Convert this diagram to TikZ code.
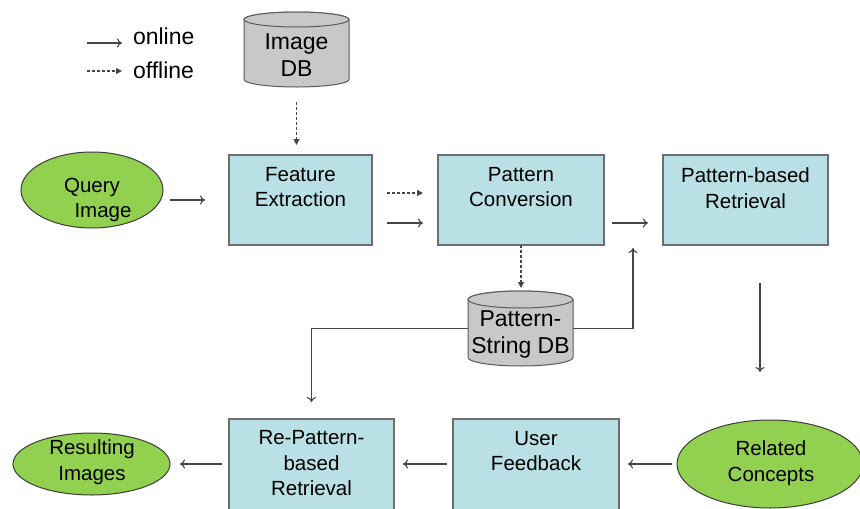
\documentclass[tikz,border=0pt]{standalone}
\usepackage{fontspec}
\setmainfont{Liberation Sans}
\usetikzlibrary{arrows.meta,shapes.geometric}
\definecolor{boxfill}{RGB}{185,224,228}
\definecolor{boxline}{RGB}{110,110,110}
\definecolor{ovfill}{RGB}{146,208,80}
\definecolor{ovline}{RGB}{60,60,60}
\definecolor{cylfill}{RGB}{200,200,200}
\definecolor{cylline}{RGB}{90,90,90}
\definecolor{conn}{RGB}{70,70,70}
\begin{document}
\begin{tikzpicture}[x=1pt,y=1pt,
  every node/.style={font=\fontsize{20.5}{25.5}\selectfont, inner sep=0pt, outer sep=0pt},
  txt/.style={align=center, text=black},
  bigtxt/.style={align=center, text=black, font=\fontsize{23}{27}\selectfont},
  procbox/.style={draw=boxline, line width=1.2pt, fill=boxfill, rectangle},
  oval/.style={draw=ovline, line width=1pt, fill=ovfill, ellipse},
  on/.style={draw=conn, line width=1.1pt, -{To[length=5pt,width=9pt]}},
  off/.style={draw=conn, line width=1.2pt, dash pattern=on 3pt off 2pt, -{Triangle[length=6pt,width=6pt]}},
  cylbody/.style={draw=cylline, line width=1pt, fill=cylfill}
]
\useasboundingbox (0,0) rectangle (860,-509);
\clip (0,0) rectangle (860,-509);

% legend
\coordinate (l1a) at (87,-43);
\coordinate (l1b) at (122,-43);
\coordinate (l2a) at (87,-71);
\coordinate (l2b) at (122,-71);
\draw[on] (l1a) -- (l1b);
\draw[off] (l2a) -- (l2b);
\node[anchor=west, bigtxt] (lon) at (133,-36) {online};
\node[anchor=west, bigtxt] (loff) at (133,-70) {offline};

% Image DB cylinder
\filldraw[cylbody] (244,-19.5) -- (244,-79.5)
  arc[start angle=180,end angle=360,x radius=52.5,y radius=7.5]
  -- (349,-19.5)
  arc[start angle=0,end angle=180,x radius=52.5,y radius=7.5] -- cycle;
\filldraw[cylbody] (296.5,-19.5) ellipse[x radius=52.5,y radius=7.5];
\node[minimum width=105pt, minimum height=75pt] (imgdb) at (296.5,-49.5) {};
\node[bigtxt] (imgdb-t) at (296.5,-55) {Image\\DB};

% Pattern-String DB cylinder
\filldraw[cylbody] (468,-299.5) -- (468,-357.5)
  arc[start angle=180,end angle=360,x radius=52.5,y radius=8.5]
  -- (573,-299.5)
  arc[start angle=0,end angle=180,x radius=52.5,y radius=8.5] -- cycle;
\filldraw[cylbody] (520.5,-299.5) ellipse[x radius=52.5,y radius=8.5];
\node[minimum width=105pt, minimum height=75pt] (psdb) at (520.5,-328.5) {};
\node[bigtxt] (psdb-t) at (520.5,-334) {Pattern-\\String DB};

% top row
\node[oval, minimum width=142pt, minimum height=76pt] (q) at (92,-190) {};
\node[txt] (q-t) at (92,-200) {Query\\\hspace*{22pt}Image};
\node[procbox, minimum width=143pt, minimum height=90pt] (fe) at (300.5,-200) {};
\node[txt] (fe-t) at (300.5,-187) {Feature\\Extraction};
\node[procbox, minimum width=166pt, minimum height=90pt] (pc) at (521,-200) {};
\node[txt] (pc-t) at (521,-187) {Pattern\\Conversion};
\node[procbox, minimum width=165pt, minimum height=90pt] (pr) at (745.5,-200) {};
\node[txt] (pr-t) at (745.5,-188) {Pattern-based\\Retrieval};

% bottom row
\node[oval, minimum width=186pt, minimum height=88pt] (rc) at (770,-464) {};
\node[txt] (rc-t) at (771,-463) {Related\\Concepts};
\node[procbox, minimum width=166pt, minimum height=101pt] (uf) at (536,-469.5) {};
\node[txt] (uf-t) at (536,-451) {User\\Feedback};
\node[procbox, minimum width=165pt, minimum height=101pt] (rp) at (311.5,-469.5) {};
\node[txt] (rp-t) at (311.5,-463.5) {Re-Pattern-\\based\\Retrieval};
\node[oval, minimum width=157pt, minimum height=62pt] (ri) at (91.5,-464) {};
\node[txt] (ri-t) at (92,-462) {Resulting\\Images};

% connectors
\draw[off, shorten <=15pt, shorten >=10pt] (imgdb.south) -- (imgdb.south |- fe.north);
\draw[on] ([xshift=7pt,yshift=-10pt]q.east) -- ([xshift=-24pt]fe.west);
\draw[off] ([xshift=15pt,yshift=7pt]fe.east) -- ([xshift=-15pt,yshift=7pt]pc.west);
\draw[on] ([xshift=15pt,yshift=-23pt]fe.east) -- ([xshift=-15pt,yshift=-23pt]pc.west);
\draw[on] ([xshift=8pt,yshift=-23pt]pc.east) -- ([xshift=-15pt,yshift=-23pt]pr.west);
\draw[off, shorten >=3pt] (pc.south) -- (pc.south |- psdb.north);
\coordinate (prin) at (633,-248);
\draw[on] (psdb.east) -| (prin);
\draw[on, shorten >=17pt] (psdb.west) -| (rp.north);
\draw[on, shorten <=38pt, shorten >=48pt] ([xshift=14.5pt]pr.south) -- ([xshift=14.5pt]pr.south |- rc.north);
\draw[on] ([xshift=-5pt]rc.west) -- ([xshift=9pt,yshift=5.5pt]uf.east);
\draw[on] ([xshift=-6pt,yshift=5.5pt]uf.west) -- ([xshift=9pt,yshift=5.5pt]rp.east);
\draw[on] ([xshift=-7pt,yshift=5.5pt]rp.west) -- ([xshift=10pt]ri.east);
\end{tikzpicture}
\end{document}
